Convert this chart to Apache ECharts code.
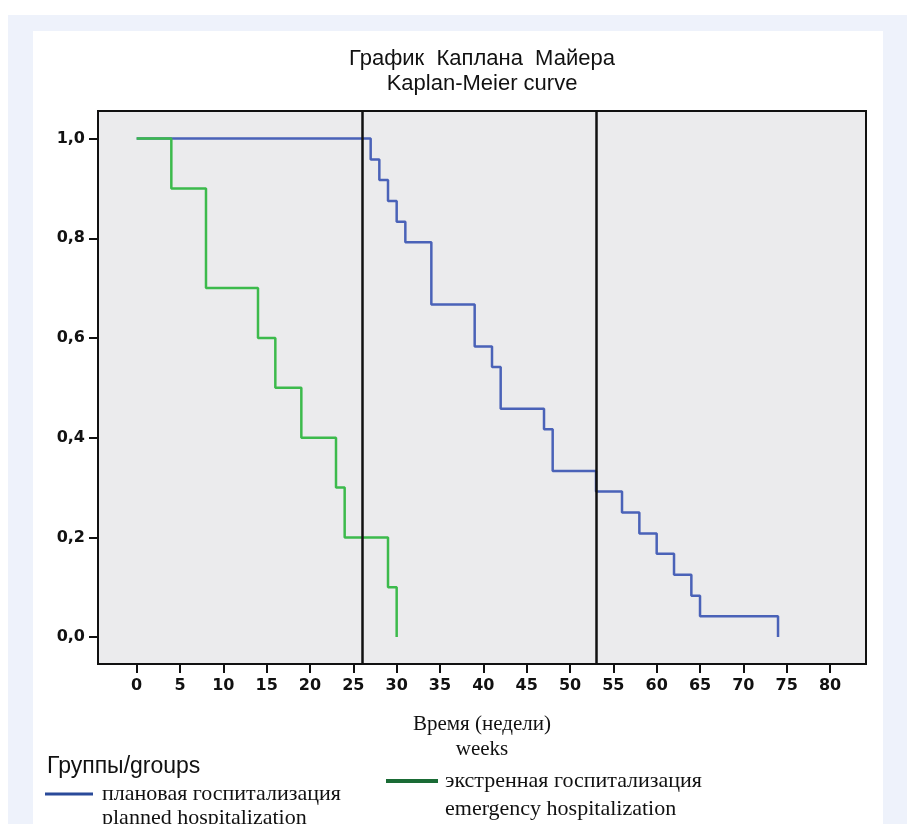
<!DOCTYPE html>
<html>
<head>
<meta charset="utf-8">
<script src="https://cdn.jsdelivr.net/npm/echarts@6/dist/echarts.min.js"></script>
<style>
  html, body { margin: 0; padding: 0; background: #ffffff; }
  #frame { position: absolute; left: 8px; top: 15px; width: 899px; height: 809px; background: #eef2fb; }
  #panel { position: absolute; left: 33px; top: 31px; width: 850px; height: 793px; background: #ffffff; }
  #chart { position: absolute; left: 0; top: 0; width: 907px; height: 824px; }
</style>
</head>
<body>
<div id="frame"></div>
<div id="panel"></div>
<div id="chart"></div>
<script>
// Kaplan-Meier survival steps: event times (weeks) and survival after each event
const plannedTimes = [0, 27, 28, 29, 30, 31, 34, 39, 41, 42, 47, 48, 53, 56, 58, 60, 62, 64, 65, 74];
const plannedSurvival = [1, 0.958, 0.917, 0.875, 0.833, 0.792, 0.667, 0.583, 0.542, 0.458, 0.417, 0.333, 0.292, 0.25, 0.208, 0.167, 0.125, 0.083, 0.042, 0];

const emergencyTimes = [0, 4, 8, 14, 16, 19, 23, 24, 29, 30];
const emergencySurvival = [1, 0.9, 0.7, 0.6, 0.5, 0.4, 0.3, 0.2, 0.1, 0];

// Reference time marks (weeks)
const refLines = [26, 53];

// Axis ticks
const xTicks = [0, 5, 10, 15, 20, 25, 30, 35, 40, 45, 50, 55, 60, 65, 70, 75, 80];
const yTicks = [0, 0.2, 0.4, 0.6, 0.8, 1.0];

const groupNames = ['плановая госпитализация', 'экстренная госпитализация'];
const groupNamesEn = ['planned hospitalization', 'emergency hospitalization'];

const BLUE = '#4a62b8';
const GREEN = '#3cba4c';
const INK = '#111111';

function pairs(xs, ys) {
  return xs.map((x, i) => [x, ys[i]]);
}

const chart = echarts.init(document.getElementById('chart'), null, { renderer: 'canvas' });

const legendText = {
  fontFamily: '"Liberation Serif", "Times New Roman", serif',
  fontSize: 22,
  lineHeight: 24,
  color: INK
};

chart.setOption({
  animation: false,
  backgroundColor: 'transparent',
  title: {
    text: 'График  Каплана  Майера\nKaplan-Meier curve',
    left: 477,
    top: 41,
    textAlign: 'center',
    textStyle: {
      fontFamily: '"Liberation Sans", Arial, sans-serif',
      fontSize: 22,
      fontWeight: 'normal',
      lineHeight: 25,
      color: INK
    }
  },
  grid: {
    left: 98,
    top: 111,
    width: 768,
    height: 553,
    containLabel: false,
    outerBoundsMode: 'none',
    show: true,
    backgroundColor: '#ebebed',
    borderColor: INK,
    borderWidth: 2
  },
  xAxis: {
    type: 'value',
    min: -4.46,
    max: 84.15,
    name: 'Время (недели)\nweeks',
    nameLocation: 'middle',
    nameGap: 48,
    nameTextStyle: {
      fontFamily: '"Liberation Serif", "Times New Roman", serif',
      fontSize: 21,
      lineHeight: 25,
      color: INK
    },
    axisLine: { show: false, onZero: false },
    splitLine: { show: false },
    axisTick: {
      show: true,
      inside: false,
      length: 9,
      customValues: xTicks,
      lineStyle: { color: INK, width: 2 }
    },
    axisLabel: {
      customValues: xTicks,
      margin: 14,
      fontFamily: '"DejaVu Sans", sans-serif',
      fontWeight: 'bold',
      fontSize: 16,
      color: INK
    }
  },
  yAxis: {
    type: 'value',
    min: -0.054,
    max: 1.0553,
    axisLine: { show: false, onZero: false },
    splitLine: { show: false },
    axisTick: {
      show: true,
      inside: false,
      length: 9,
      customValues: yTicks,
      lineStyle: { color: INK, width: 2 }
    },
    axisLabel: {
      customValues: yTicks,
      margin: 13,
      fontFamily: '"DejaVu Sans", sans-serif',
      fontWeight: 'bold',
      fontSize: 16,
      color: INK,
      formatter: v => v.toFixed(1).replace('.', ',')
    }
  },
  legend: [
    {
      data: [{ name: groupNames[0], itemStyle: { color: '#2a4a9a' } }],
      left: 45,
      top: 781,
      padding: 0,
      icon: 'rect',
      itemWidth: 48,
      itemHeight: 3,
      textStyle: Object.assign({ padding: [0, 0, 2, 4] }, legendText)
    },
    {
      data: [{ name: groupNames[1], itemStyle: { color: '#1a6b35' } }],
      left: 386,
      top: 766,
      padding: 0,
      icon: 'rect',
      itemWidth: 52,
      itemHeight: 4,
      textStyle: Object.assign({ padding: [6, 0, 0, 2] }, legendText)
    }
  ],
  graphic: [
    {
      type: 'text',
      x: 47,
      y: 767,
      style: {
        text: 'Группы/groups',
        font: '23px "Liberation Sans", Arial, sans-serif',
        fill: INK,
        verticalAlign: 'middle'
      }
    },
    {
      type: 'text',
      x: 102,
      y: 818,
      style: {
        text: groupNamesEn[0],
        font: '22px "Liberation Serif", "Times New Roman", serif',
        fill: INK,
        verticalAlign: 'middle'
      }
    },
    {
      type: 'text',
      x: 445,
      y: 809,
      style: {
        text: groupNamesEn[1],
        font: '22px "Liberation Serif", "Times New Roman", serif',
        fill: INK,
        verticalAlign: 'middle'
      }
    }
  ],
  series: [
    {
      name: groupNames[0],
      type: 'line',
      step: 'end',
      data: pairs(plannedTimes, plannedSurvival),
      showSymbol: false,
      symbol: 'none',
      lineStyle: { color: BLUE, width: 2.5 },
      itemStyle: { color: BLUE },
      z: 2
    },
    {
      name: groupNames[1],
      type: 'line',
      step: 'end',
      data: pairs(emergencyTimes, emergencySurvival),
      showSymbol: false,
      symbol: 'none',
      lineStyle: { color: GREEN, width: 2.5 },
      itemStyle: { color: GREEN },
      z: 3
    },
    {
      name: 'marks',
      type: 'line',
      data: [],
      z: 5,
      markLine: {
        silent: true,
        symbol: ['none', 'none'],
        label: { show: false },
        lineStyle: { color: INK, width: 2.5, type: 'solid' },
        data: refLines.map(x => ({ xAxis: x }))
      }
    }
  ]
});
</script>
</body>
</html>
